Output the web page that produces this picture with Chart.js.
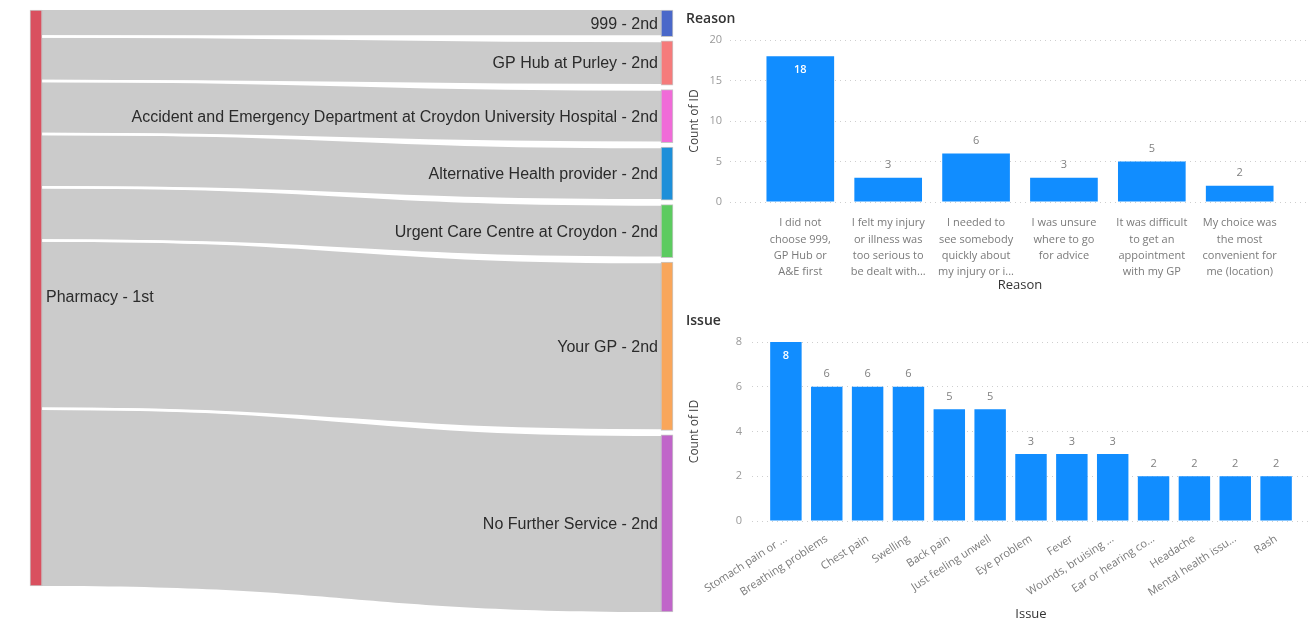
<!DOCTYPE html>
<html>
<head>
<meta charset="utf-8">
<title>Pharmacy first - second service, reasons and issues</title>
<script src="https://cdn.jsdelivr.net/npm/chart.js@4.4.1/dist/chart.umd.min.js"></script>
<style>
    html, body { margin: 0; padding: 0; background: #ffffff; }
    body { width: 1314px; height: 625px; position: relative; overflow: hidden; }
    .panel { position: absolute; }
    #sankeyBox { left: 0; top: 0; width: 680px; height: 625px; }
    #reasonBox { left: 680px; top: 0; width: 634px; height: 300px; }
    #issueBox { left: 680px; top: 300px; width: 634px; height: 325px; }
</style>
</head>
<body>
<div class="panel" id="sankeyBox"><canvas id="sankeyChart"></canvas></div>
<div class="panel" id="reasonBox"><canvas id="reasonChart"></canvas></div>
<div class="panel" id="issueBox"><canvas id="issueChart"></canvas></div>

<script>
// ---- data ----
const firstService = "Pharmacy - 1st";
const secondServices = [
    "999 - 2nd",
    "GP Hub at Purley - 2nd",
    "Accident and Emergency Department at Croydon University Hospital - 2nd",
    "Alternative Health provider - 2nd",
    "Urgent Care Centre at Croydon - 2nd",
    "Your GP - 2nd",
    "No Further Service - 2nd"
];
const secondCounts = [3, 5, 6, 6, 6, 19, 20];

const reasonLabels = [
    ["I did not", "choose 999,", "GP Hub or", "A&E first"],
    ["I felt my injury", "or illness was", "too serious to", "be dealt with..."],
    ["I needed to", "see somebody", "quickly about", "my injury or i..."],
    ["I was unsure", "where to go", "for advice"],
    ["It was difficult", "to get an", "appointment", "with my GP"],
    ["My choice was", "the most", "convenient for", "me (location)"]
];
const reasonCounts = [18, 3, 6, 3, 5, 2];
const reasonAxis = { max: 20, step: 5 };

const issueLabels = [
    "Stomach pain or ...", "Breathing problems", "Chest pain", "Swelling", "Back pain",
    "Just feeling unwell", "Eye problem", "Fever", "Wounds, bruising ...",
    "Ear or hearing co...", "Headache", "Mental health issu...", "Rash"
];
const issueCounts = [8, 6, 6, 6, 5, 5, 3, 3, 3, 2, 2, 2, 2];
const issueAxis = { max: 8, step: 2 };

// ---- styles ----
const firstColor = "#d9505f";
const secondColors = ["#4a68c9", "#f57b7b", "#f06bd8", "#1d8fd9", "#5ccb60", "#f9a65a", "#c065c9"];
const barBlue = "#118DFF";
const uiFont = '"Segoe UI", "Open Sans", sans-serif';

Chart.defaults.font.family = uiFont;
Chart.defaults.animation = false;

// ---- sankey: nodes are floating bars, links drawn from the same y scale ----
const nodeGap = 0.49; // space between right-hand nodes, in count units
const totalCount = secondCounts.reduce((a, b) => a + b, 0);
let running = 0;
const leftSpans = secondCounts.map(c => {
    const span = [running, running + c];
    running += c;
    return span;
});
const rightSpans = leftSpans.map((s, i) => [s[0] + i * nodeGap, s[1] + i * nodeGap]);

const nodeDatasets = [{
    label: firstService,
    data: [[0, totalCount], null],
    backgroundColor: firstColor
}];
secondServices.forEach((name, i) => {
    nodeDatasets.push({ label: name, data: [null, rightSpans[i]], backgroundColor: secondColors[i] });
});

const sankeyLinks = {
    id: "sankeyLinks",
    beforeDatasetsDraw(chart) {
        const { ctx } = chart;
        const y = chart.scales.y;
        const leftBar = chart.getDatasetMeta(0).data[0];
        const rightBar = chart.getDatasetMeta(1).data[1];
        const x0 = leftBar.x + leftBar.width / 2;
        const x1 = rightBar.x - rightBar.width / 2;
        const xm = (x0 + x1) / 2;
        ctx.save();
        ctx.fillStyle = "#cbcbcb";
        secondCounts.forEach((c, i) => {
            const a0 = y.getPixelForValue(leftSpans[i][0]), a1 = y.getPixelForValue(leftSpans[i][1]);
            const b0 = y.getPixelForValue(rightSpans[i][0]), b1 = y.getPixelForValue(rightSpans[i][1]);
            ctx.beginPath();
            ctx.moveTo(x0, a0);
            ctx.bezierCurveTo(xm, a0, xm, b0, x1, b0);
            ctx.lineTo(x1, b1);
            ctx.bezierCurveTo(xm, b1, xm, a1, x0, a1);
            ctx.closePath();
            ctx.fill();
        });
        // white separators between the bands
        ctx.strokeStyle = "#ffffff";
        ctx.lineWidth = 2.5;
        for (let i = 1; i < secondCounts.length; i++) {
            const a = y.getPixelForValue(leftSpans[i][0]);
            const edges = [y.getPixelForValue(rightSpans[i - 1][1]), y.getPixelForValue(rightSpans[i][0])];
            edges.forEach(b => {
                ctx.beginPath();
                ctx.moveTo(x0, a);
                ctx.bezierCurveTo(xm, a, xm, b, x1, b);
                ctx.stroke();
            });
        }
        ctx.restore();
    },
    afterDatasetsDraw(chart) {
        const { ctx } = chart;
        ctx.save();
        ctx.font = '16px "Liberation Sans", Arial, sans-serif';
        ctx.fillStyle = "#2b2b2b";
        ctx.textBaseline = "middle";
        const first = chart.getDatasetMeta(0).data[0];
        ctx.textAlign = "left";
        ctx.fillText(firstService, first.x + first.width / 2 + 4, (first.y + first.base) / 2);
        ctx.textAlign = "right";
        secondServices.forEach((name, i) => {
            const node = chart.getDatasetMeta(i + 1).data[1];
            ctx.fillText(name, node.x - node.width / 2 - 3, (node.y + node.base) / 2 + 1);
        });
        ctx.restore();
    }
};

new Chart(document.getElementById("sankeyChart"), {
    type: "bar",
    data: { labels: ["1st", "2nd"], datasets: nodeDatasets },
    options: {
        responsive: true,
        maintainAspectRatio: false,
        layout: { padding: { left: 36, right: 13, top: 10, bottom: 13 } },
        datasets: {
            bar: {
                grouped: false,
                clip: false,
                barThickness: 12,
                borderWidth: 1,
                borderColor: "rgba(0,0,0,0.22)",
                borderSkipped: false
            }
        },
        scales: {
            x: { offset: false, display: false },
            y: { min: 0, max: totalCount + (secondCounts.length - 1) * nodeGap, reverse: true, display: false }
        },
        plugins: { legend: { display: false }, tooltip: { enabled: false } }
    },
    plugins: [sankeyLinks]
});

// ---- bar charts ----
const barValueLabels = {
    id: "barValueLabels",
    afterDatasetsDraw(chart) {
        const { ctx, chartArea } = chart;
        const points = chart.data.datasets[0].data;
        ctx.save();
        ctx.textAlign = "center";
        ctx.textBaseline = "middle";
        chart.getDatasetMeta(0).data.forEach((bar, i) => {
            const inside = bar.y - chartArea.top < 20;
            ctx.font = (inside ? "600 " : "") + "11px " + uiFont;
            ctx.fillStyle = inside ? "#ffffff" : "#808080";
            ctx.fillText(String(points[i].y), bar.x, inside ? bar.y + 14 : bar.y - 12.5);
        });
        ctx.restore();
    }
};

function barChart(canvasId, opts) {
    return new Chart(document.getElementById(canvasId), {
        type: "bar",
        data: {
            datasets: [{
                data: opts.values.map((v, i) => ({ x: i, y: v })),
                backgroundColor: barBlue,
                categoryPercentage: 1,
                barPercentage: 0.77
            }]
        },
        options: {
            responsive: true,
            maintainAspectRatio: false,
            layout: { padding: { left: 6, right: 4, top: 0, bottom: opts.bottomPad } },
            scales: {
                x: {
                    type: "linear",
                    offset: false,
                    min: opts.xMin,
                    max: opts.xMax,
                    grid: { display: false },
                    border: { display: false },
                    ticks: {
                        stepSize: 1,
                        includeBounds: false,
                        autoSkip: false,
                        minRotation: opts.rotation,
                        maxRotation: opts.rotation,
                        padding: opts.tickPad,
                        color: "#7a7a7a",
                        font: { size: 11, lineHeight: 1.48 },
                        callback: v => opts.labels[v]
                    },
                    title: {
                        display: true,
                        text: opts.title,
                        color: "#333333",
                        font: { size: 13 },
                        padding: { top: 0, bottom: 1 }
                    },
                    afterFit: s => { s.height = opts.xAxisHeight; }
                },
                y: {
                    min: 0,
                    max: opts.axis.max,
                    grid: { color: "#cfcfcf", drawTicks: false },
                    border: { display: false, dash: [1, 4] },
                    ticks: { stepSize: opts.axis.step, padding: opts.yTickPad, color: "#999999", font: { size: 11 } },
                    title: {
                        display: true,
                        text: "Count of ID",
                        color: "#444444",
                        font: { size: 12 },
                        padding: { top: 1, bottom: 0 }
                    },
                    afterFit: s => { s.width = opts.yAxisWidth; }
                }
            },
            plugins: {
                legend: { display: false },
                tooltip: { enabled: false },
                title: {
                    display: true,
                    text: opts.title,
                    align: "start",
                    color: "#333333",
                    font: { size: 14, weight: "600" },
                    padding: opts.titlePad
                }
            }
        },
        plugins: [barValueLabels]
    });
}

barChart("reasonChart", {
    title: "Reason",
    labels: reasonLabels,
    values: reasonCounts,
    axis: reasonAxis,
    xMin: -0.8, xMax: 5.8,
    rotation: 0,
    tickPad: 5,
    xAxisHeight: 92,
    bottomPad: 6,
    yAxisWidth: 44,
    yTickPad: 8,
    titlePad: { top: 11, bottom: 12.2 }
});

barChart("issueChart", {
    title: "Issue",
    labels: issueLabels,
    values: issueCounts,
    axis: issueAxis,
    xMin: -0.83, xMax: 12.83,
    rotation: 33,
    tickPad: 2,
    xAxisHeight: 102,
    bottomPad: 2,
    yAxisWidth: 66,
    yTickPad: 10,
    titlePad: { top: 12.6, bottom: 12.6 }
});
</script>
</body>
</html>
